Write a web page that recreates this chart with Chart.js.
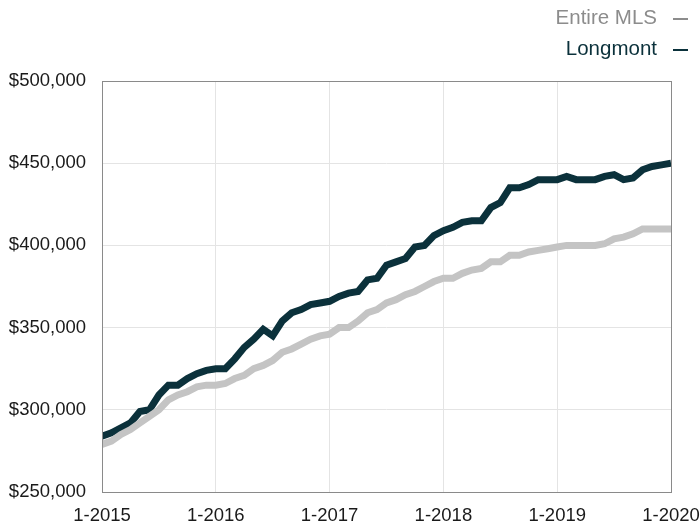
<!DOCTYPE html>
<html>
<head>
<meta charset="utf-8">
<script src="https://cdn.jsdelivr.net/npm/chart.js@4"></script>
<style>
  body { margin: 0; background: #fff; }
  #wrap { position: relative; width: 700px; height: 525px; }
  #legend { position: absolute; right: 12px; top: 1px; font-family: "Liberation Sans", Arial, sans-serif; font-size: 20.5px; text-align: right; line-height: 31px; }
  #legend .dash { display: inline-block; width: 15px; height: 2px; margin-left: 16px; vertical-align: middle; }
</style>
</head>
<body>
<div id="wrap">
  <canvas id="chartPrecio" width="700" height="525"></canvas>
  <div id="legend"></div>
</div>
<script>
// meses desde 1-2015 hasta 1-2020
const tickLabels = ['1-2015', '1-2016', '1-2017', '1-2018', '1-2019', '1-2020'];

const entireMLS = [
  279000, 281000, 285000, 288000, 292000, 296000, 300000, 306000, 309000, 311000, 314000, 315000,
  315000, 316000, 319000, 321000, 325000, 327000, 330000, 335000, 337000, 340000, 343000, 345000,
  346000, 350000, 350000, 354000, 359000, 361000, 365000, 367000, 370000, 372000, 375000, 378000,
  380000, 380000, 383000, 385000, 386000, 390000, 390000, 394000, 394000, 396000, 397000, 398000,
  399000, 400000, 400000, 400000, 400000, 401000, 404000, 405000, 407000, 410000, 410000, 410000,
  410000
];

const longmont = [
  284000, 286000, 289000, 292000, 299000, 300000, 309000, 315000, 315000, 319000, 322000, 324000,
  325000, 325000, 331000, 338000, 343000, 349000, 345000, 354000, 359000, 361000, 364000, 365000,
  366000, 369000, 371000, 372000, 379000, 380000, 388000, 390000, 392000, 399000, 400000, 406000,
  409000, 411000, 414000, 415000, 415000, 423000, 426000, 435000, 435000, 437000, 440000, 440000,
  440000, 442000, 440000, 440000, 440000, 442000, 443000, 440000, 441000, 446000, 448000, 449000,
  450000
];

const series = [
  { label: 'Entire MLS', data: entireMLS, color: '#c4c4c4', text: '#8c8c8c' },
  { label: 'Longmont', data: longmont, color: '#0b313b', text: '#0b313b' }
];

// leyenda arriba a la derecha
document.getElementById('legend').innerHTML = series.map(s =>
  '<div style="color:' + s.text + '">' + s.label +
  '<span class="dash" style="background:' + s.text + '"></span></div>'
).join('');

const marco = {
  id: 'marco',
  afterDatasetsDraw(chart) {
    const a = chart.chartArea, c = chart.ctx;
    c.save();
    c.strokeStyle = '#8a8a8a';
    c.lineWidth = 1;
    c.strokeRect(a.left + 0.5, a.top + 0.5, a.right - a.left, a.bottom - a.top);
    c.restore();
  }
};

const fuente = { family: '"Liberation Sans", Arial, sans-serif', size: 18.5 };

new Chart(document.getElementById('chartPrecio').getContext('2d'), {
  type: 'line',
  data: {
    datasets: series.map(s => ({
      label: s.label,
      data: s.data.map((v, i) => ({ x: i, y: v })),
      borderColor: s.color,
      borderWidth: 7,
      pointRadius: 0,
      tension: 0,
      fill: false
    }))
  },
  options: {
    responsive: false,
    animation: false,
    layout: { padding: { top: 81, right: 29, left: 0, bottom: 0 } },
    scales: {
      x: {
        type: 'linear',
        min: 0,
        max: 60,
        afterFit: s => { s.height = 33; s.paddingLeft = 0; s.paddingRight = 0; },
        ticks: {
          stepSize: 12,
          color: '#1a1a1a',
          font: fuente,
          maxRotation: 0,
          padding: 13,
          callback: v => tickLabels[v / 12]
        },
        grid: { color: '#e4e4e4', drawTicks: false },
        border: { display: false }
      },
      y: {
        min: 250000,
        max: 500000,
        afterFit: s => { s.width = 102; s.paddingTop = 0; s.paddingBottom = 0; },
        ticks: {
          stepSize: 50000,
          color: '#1a1a1a',
          font: fuente,
          padding: 16,
          callback: v => '$' + v.toLocaleString('en-US')
        },
        grid: { color: '#e4e4e4', drawTicks: false },
        border: { display: false }
      }
    },
    plugins: {
      legend: { display: false },
      tooltip: { enabled: false }
    }
  },
  plugins: [marco]
});
</script>
</body>
</html>
